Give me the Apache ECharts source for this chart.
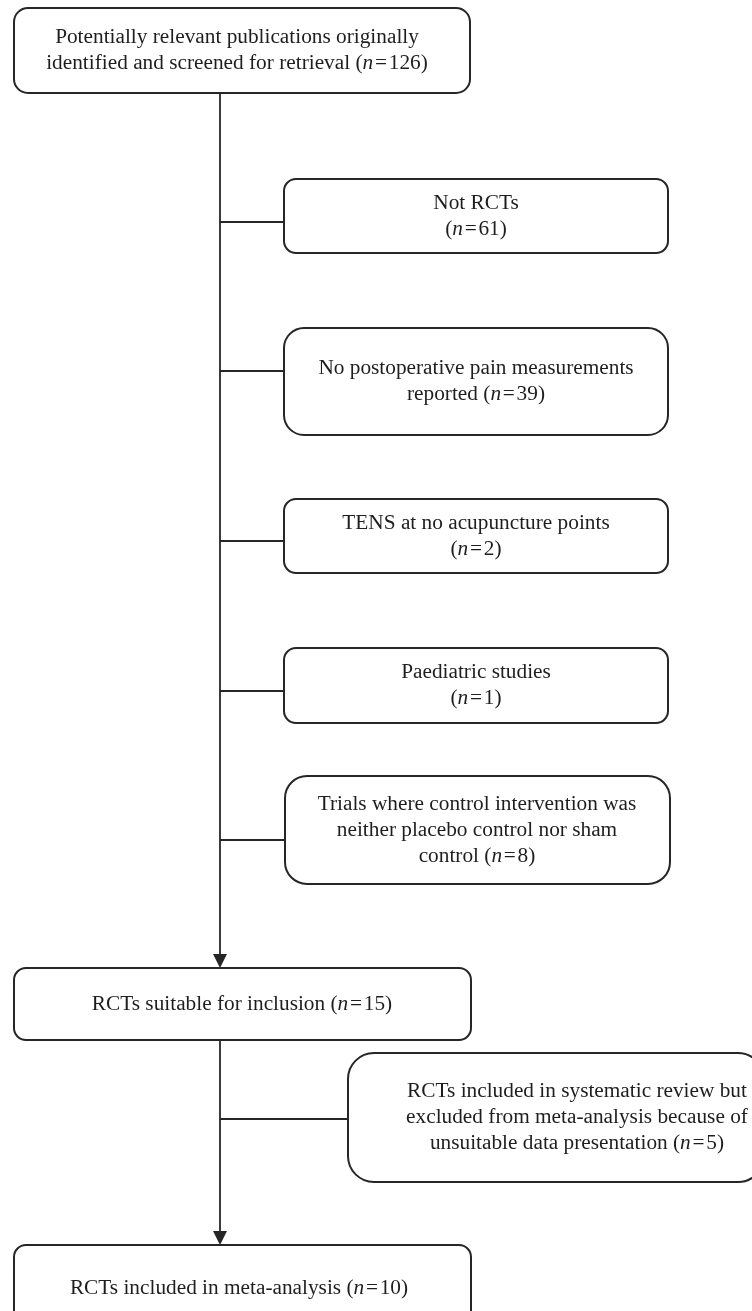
<!DOCTYPE html>
<html>
<head>
<meta charset="utf-8">
<script src="https://cdn.jsdelivr.net/npm/echarts/dist/echarts.min.js"></script>
<style>
html,body{margin:0;padding:0;background:#fff;}
#chart{width:752px;height:1311px;}
</style>
</head>
<body>
<div id="chart"></div>
<script>
// ---- data: stage texts and counts ----
const stageLabels = [
  "Potentially relevant publications originally\nidentified and screened for retrieval (%N%)",
  "Not RCTs\n(%N%)",
  "No postoperative pain measurements\nreported (%N%)",
  "TENS at no acupuncture points\n(%N%)",
  "Paediatric studies\n(%N%)",
  "Trials where control intervention was\nneither placebo control nor sham\ncontrol (%N%)",
  "RCTs suitable for inclusion (%N%)",
  "RCTs included in systematic review but\nexcluded from meta-analysis because of\nunsuitable data presentation (%N%)",
  "RCTs included in meta-analysis (%N%)"
];
const stageCounts = [126, 61, 39, 2, 1, 8, 15, 5, 10];

// flow structure: main arrows (from -> to) and side exclusions (from -> to)
const mainLinks = [[0, 6], [6, 8]];
const sideLinks = [[0, 1], [0, 2], [0, 3], [0, 4], [0, 5], [6, 7]];

// ---- layout (chart coordinates, y downward) ----
const boxLeft   = [14, 284, 284, 284, 284, 285, 14, 348, 14];
const boxRight  = [470, 668, 668, 668, 668, 670, 471, 764, 471];
const boxTop    = [8, 179, 328, 499, 648, 776, 968, 1053, 1245];
const boxBottom = [93, 253, 435, 573, 723, 884, 1040, 1182, 1331];
const boxRadius = [14, 12, 20, 12, 12, 22, 12, 26, 12];
const textX     = [237, 476, 476, 476, 476, 477, 242, 577, 239];
const trunkX = 220;
const sideY = [222, 371, 541, 691, 840, 1119];

const INK = '#262626';
const FONT = '"Liberation Serif", "Times New Roman", serif';
const FS = 21.3;

function labelText(i) {
  return stageLabels[i].replace('%N%', '{i|n}\u200A=\u200A' + stageCounts[i]);
}

const boxData = stageLabels.map((_, i) => [boxLeft[i], boxTop[i], boxRight[i], boxBottom[i], i, textX[i]]);

const segData = [];
mainLinks.forEach(([a, b]) => segData.push([trunkX, boxBottom[a], trunkX, boxTop[b], 1]));
sideLinks.forEach(([a, b], k) => segData.push([trunkX, sideY[k], boxLeft[b], sideY[k], 0]));

const chart = echarts.init(document.getElementById('chart'), null, {renderer: 'canvas'});
chart.setOption({
  backgroundColor: '#fff',
  animation: false,
  grid: {left: 0, right: 0, top: 0, bottom: 0, containLabel: false},
  xAxis: {type: 'value', min: 0, max: 752, show: false},
  yAxis: {type: 'value', min: 0, max: 1311, inverse: true, show: false},
  series: [
    {
      type: 'custom',
      coordinateSystem: 'cartesian2d',
      clip: false,
      data: segData,
      renderItem: function (params, api) {
        const p0 = api.coord([api.value(0), api.value(1)]);
        const p1 = api.coord([api.value(2), api.value(3)]);
        const arrow = api.value(4) === 1;
        const children = [{
          type: 'line',
          shape: {x1: p0[0], y1: p0[1], x2: p1[0], y2: arrow ? p1[1] - 6 : p1[1]},
          style: {stroke: INK, lineWidth: 1.8}
        }];
        if (arrow) {
          children.push({
            type: 'polygon',
            shape: {points: [[p1[0], p1[1]], [p1[0] - 7, p1[1] - 14], [p1[0] + 7, p1[1] - 14]]},
            style: {fill: INK}
          });
        }
        return {type: 'group', children: children};
      }
    },
    {
      type: 'custom',
      coordinateSystem: 'cartesian2d',
      clip: false,
      data: boxData,
      renderItem: function (params, api) {
        const i = api.value(4);
        const p0 = api.coord([api.value(0), api.value(1)]);
        const p1 = api.coord([api.value(2), api.value(3)]);
        const tc = api.coord([api.value(5), (api.value(1) + api.value(3)) / 2]);
        return {
          type: 'group',
          children: [
            {
              type: 'rect',
              shape: {x: p0[0], y: p0[1], width: p1[0] - p0[0], height: p1[1] - p0[1], r: boxRadius[i]},
              style: {fill: '#fff', stroke: INK, lineWidth: 2}
            },
            {
              type: 'text',
              x: tc[0], y: tc[1],
              style: {
                text: labelText(i),
                align: 'center',
                verticalAlign: 'middle',
                fontFamily: FONT,
                fontSize: FS,
                lineHeight: 26,
                fill: '#1e1e1e',
                rich: {
                  i: {fontFamily: FONT, fontSize: FS, lineHeight: 26, fontStyle: 'italic', fill: '#1e1e1e'}
                }
              }
            }
          ]
        };
      }
    }
  ]
});
</script>
</body>
</html>
